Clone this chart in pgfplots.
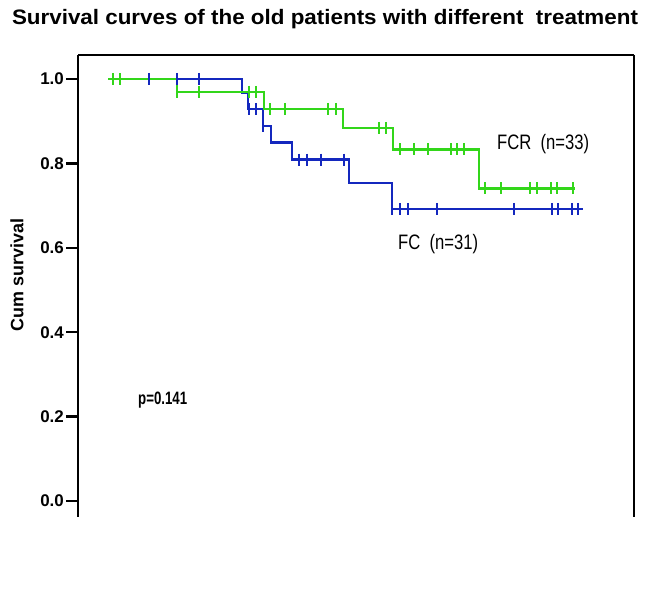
\documentclass[border=0pt]{standalone}
\usepackage{fontspec}
\setmainfont{Liberation Sans}
\usepackage{pgfplots}
\pgfplotsset{compat=1.18}
\definecolor{kmgreen}{RGB}{51,214,26}
\definecolor{kmblue}{RGB}{20,40,190}
\begin{document}
\begin{tikzpicture}
\begin{axis}[
  scale only axis, width=556bp, height=462bp,
  xmin=78, xmax=634, ymin=-0.0379, ymax=1.0569,
  hide x axis,
  axis line style={line width=2bp, black},
  ytick={0,0.2,0.4,0.6,0.8,1.0},
  ytick pos=left, tick align=outside,
  major tick length=12bp,
  ytick style={line width=2.5bp, black},
  yticklabel style={font=\bfseries\fontsize{17}{17}\selectfont, inner sep=2bp},
  /pgf/number format/assume math mode=true,
  /pgf/number format/fixed, /pgf/number format/fixed zerofill, /pgf/number format/precision=1,
  clip=false,
]
% FC step curve
\addplot[const plot, kmblue, line width=2.5bp] coordinates {
(108,1) (242,0.9677) (248,0.929) (263,0.888) (271,0.849) (292,0.809) (349,0.753) (392,0.692) (583,0.692)};
% FCR step curve
\addplot[const plot, kmgreen, line width=2.5bp] coordinates {
(108,1) (177,0.9697) (264,0.929) (343,0.884) (393,0.833) (479,0.741) (575,0.741)};
% FC censored
\addplot[only marks, kmblue, mark=|, mark size=6bp, mark options={line width=2bp}] coordinates {
(149,1) (177,1) (199,1)
(249,0.929) (256,0.929)
(263,0.888)
(299,0.809) (307,0.809) (321,0.809) (344,0.809)
(392,0.692) (400,0.692) (408,0.692) (437,0.692) (514,0.692) (552,0.692) (558,0.692) (572,0.692) (578,0.692)};
% FCR censored
\addplot[only marks, kmgreen, mark=|, mark size=6bp, mark options={line width=2bp}] coordinates {
(113,1) (120,1)
(177,0.9697) (199,0.9697) (249,0.9697) (256,0.9697)
(270,0.929) (285,0.929) (328,0.929) (336,0.929)
(379,0.884) (386,0.884)
(400,0.833) (414,0.833) (428,0.833) (451,0.833) (457,0.833) (464,0.833)
(485,0.741) (501,0.741) (530,0.741) (537,0.741) (551,0.741) (557,0.741) (573,0.741)};
\draw[line width=2bp, black] (rel axis cs:0,1) -- (rel axis cs:1,1);
\node[anchor=base west, inner sep=0pt] at (axis cs:497,0.832) {\resizebox{92bp}{\height}{\fontsize{21}{21}\selectfont FCR\ \ (n=33)}};
\node[anchor=base west, inner sep=0pt] at (axis cs:398,0.595) {\resizebox{80bp}{\height}{\fontsize{21}{21}\selectfont FC\ \ (n=31)}};
\node[anchor=base west, inner sep=0pt] at (axis cs:138,0.2275) {\resizebox{49bp}{\height}{\bfseries\fontsize{18}{18}\selectfont p=0.141}};
\node[rotate=90, inner sep=0pt, font=\bfseries\fontsize{18}{18}\selectfont] at (axis cs:17,0.536) {Cum survival};
\node[anchor=base, inner sep=0pt] at (axis cs:325,1.128) {\resizebox{626bp}{\height}{\bfseries\fontsize{21}{21}\selectfont Survival curves of the old patients with different\ \ treatment}};
\coordinate (bl) at (rel axis cs:-0.1403,-0.1991);
\coordinate (tr) at (rel axis cs:1.0216,1.119);
\end{axis}
\pgfresetboundingbox
\useasboundingbox (bl) rectangle (tr);
\end{tikzpicture}
\end{document}
